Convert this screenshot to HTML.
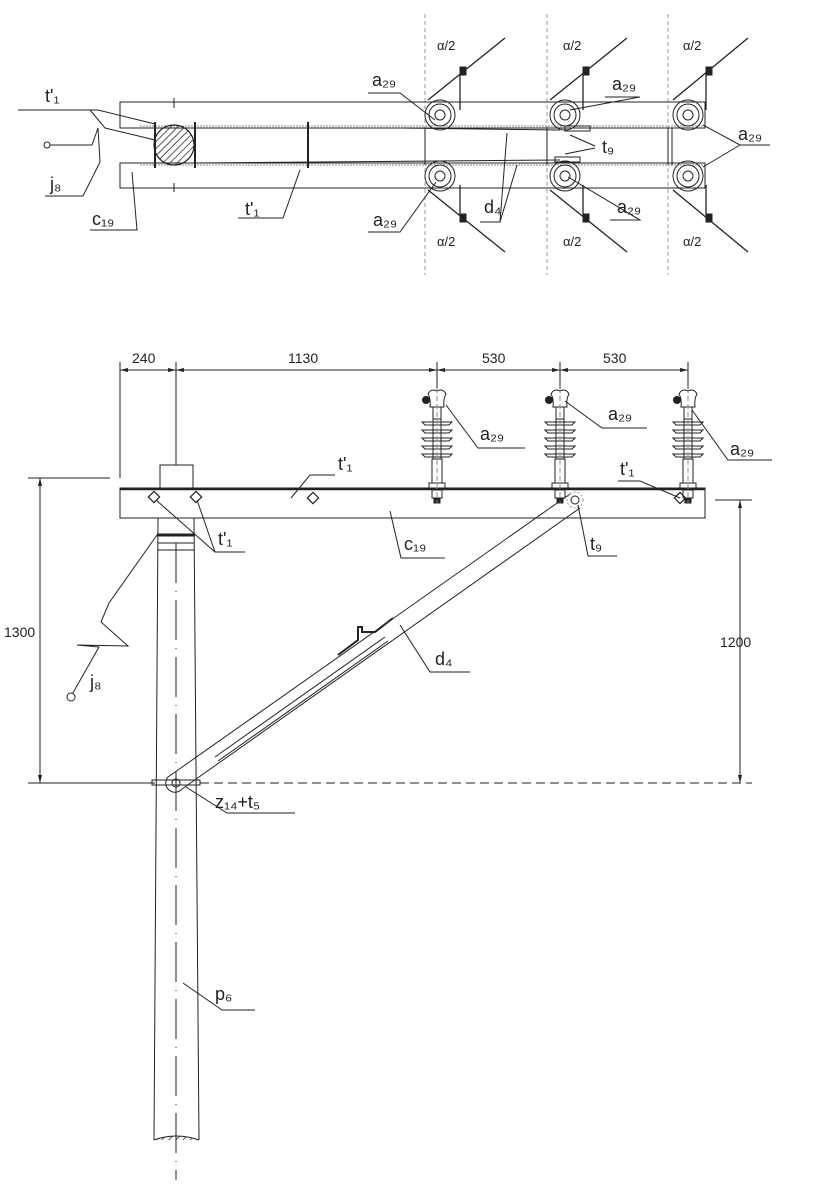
<!DOCTYPE html>
<html><head><meta charset="utf-8"><style>
html,body{margin:0;padding:0;background:#fff}
svg{display:block}
text{font-family:"Liberation Sans",sans-serif;fill:#222}
</style></head><body>
<svg width="816" height="1200" viewBox="0 0 816 1200" xmlns="http://www.w3.org/2000/svg" stroke="#222" fill="none" stroke-width="1">
<defs>
<pattern id="h" width="5" height="5" patternUnits="userSpaceOnUse" patternTransform="rotate(45)"><line x1="0" y1="0" x2="0" y2="5" stroke="#222" stroke-width="1.5"/></pattern>
</defs>
<!-- TOP VIEW -->
<g stroke="#999" stroke-dasharray="4,3">
<line x1="425" y1="14" x2="425" y2="275"/><line x1="547" y1="14" x2="547" y2="275"/><line x1="668" y1="14" x2="668" y2="275"/>
</g>
<rect x="120" y="102" width="585" height="26"/>
<rect x="120" y="163" width="585" height="25"/>
<line x1="140" y1="126" x2="705" y2="126" stroke="#888" stroke-dasharray="2,1"/>
<line x1="140" y1="165" x2="705" y2="165" stroke="#888" stroke-dasharray="2,1"/>
<circle cx="174" cy="145" r="20" fill="url(#h)" stroke-width="1.2"/>
<line x1="155" y1="122" x2="155" y2="168" stroke-width="2"/><line x1="195" y1="122" x2="195" y2="168" stroke-width="2"/>
<line x1="308" y1="122" x2="308" y2="168" stroke-width="2"/>
<line x1="174" y1="98" x2="174" y2="108"/><line x1="174" y1="183" x2="174" y2="192"/>
<line x1="195" y1="128" x2="400" y2="128"/><line x1="400" y1="128" x2="560" y2="130"/>
<line x1="195" y1="163" x2="560" y2="160"/>
<line x1="425" y1="128" x2="425" y2="165"/><line x1="547" y1="128" x2="547" y2="165"/>
<line x1="668" y1="128" x2="668" y2="165"/><line x1="672" y1="128" x2="672" y2="165"/>
<g>
<circle cx="440" cy="115" r="15"/><circle cx="440" cy="115" r="11"/><circle cx="440" cy="115" r="5"/>
<circle cx="440" cy="176" r="15"/><circle cx="440" cy="176" r="11"/><circle cx="440" cy="176" r="5"/>
<circle cx="565" cy="115" r="15"/><circle cx="565" cy="115" r="11"/><circle cx="565" cy="115" r="5"/>
<circle cx="565" cy="176" r="15"/><circle cx="565" cy="176" r="11"/><circle cx="565" cy="176" r="5"/>
<circle cx="688" cy="115" r="15"/><circle cx="688" cy="115" r="11"/><circle cx="688" cy="115" r="5"/>
<circle cx="688" cy="176" r="15"/><circle cx="688" cy="176" r="11"/><circle cx="688" cy="176" r="5"/>
</g>
<rect x="565" y="126" width="25" height="5"/><rect x="555" y="157" width="25" height="5"/>
<g stroke-width="1.3">
<line x1="428" y1="100" x2="505" y2="38"/><line x1="460" y1="75" x2="460" y2="110"/>
<line x1="428" y1="190" x2="505" y2="252"/><line x1="460" y1="215" x2="460" y2="185"/>
<line x1="550" y1="100" x2="627" y2="38"/><line x1="583" y1="75" x2="583" y2="110"/>
<line x1="550" y1="190" x2="627" y2="252"/><line x1="583" y1="215" x2="583" y2="185"/>
<line x1="673" y1="100" x2="748" y2="38"/><line x1="706" y1="75" x2="706" y2="110"/>
<line x1="673" y1="190" x2="748" y2="252"/><line x1="706" y1="215" x2="706" y2="185"/>
</g>
<g fill="#222"><rect x="460" y="67" width="6" height="8"/><rect x="583" y="67" width="6" height="8"/><rect x="706" y="67" width="6" height="8"/>
<rect x="460" y="214" width="6" height="8"/><rect x="583" y="214" width="6" height="8"/><rect x="706" y="214" width="6" height="8"/></g>
<g font-size="13" stroke="none"><text x="437" y="50">α/2</text><text x="563" y="50">α/2</text><text x="683" y="50">α/2</text>
<text x="437" y="246">α/2</text><text x="563" y="246">α/2</text><text x="683" y="246">α/2</text></g>
<g font-size="18" stroke="none">
<text x="45" y="102">t'₁</text><text x="50" y="190">j₈</text><text x="92" y="225">c₁₉</text>
<text x="245" y="215">t'₁</text><text x="372" y="86">a₂₉</text><text x="612" y="90">a₂₉</text>
<text x="617" y="213">a₂₉</text><text x="373" y="226">a₂₉</text><text x="484" y="213">d₄</text>
<text x="602" y="153">t₉</text><text x="738" y="140">a₂₉</text>
</g>
<polyline points="18,110 98,110 155,124"/><polyline points="90,110 105,128 155,140"/>
<polyline points="47,145 92,145 98,128 100,162 83,196 45,196"/>
<circle cx="47" cy="145" r="3" fill="#fff"/>
<polyline points="90,230 137,230 132,172"/>
<polyline points="238,218 283,218 300,170"/>
<polyline points="368,93 400,93 435,120"/>
<polyline points="605,97 640,97 570,110"/><polyline points="610,220 640,220 568,177"/>
<polyline points="368,232 400,232 436,182"/>
<polyline points="480,222 500,222 507,133"/><line x1="500" y1="222" x2="517" y2="165"/>
<polyline points="595,146 570,135"/><polyline points="595,148 565,154"/>
<polyline points="770,145 740,145 703,125"/><line x1="740" y1="145" x2="703" y2="167"/>
<!-- FRONT VIEW dims -->
<line x1="120" y1="370" x2="688" y2="370"/>
<g><line x1="120" y1="362" x2="120" y2="478"/><line x1="176" y1="362" x2="176" y2="465"/>
<line x1="437" y1="362" x2="437" y2="393"/><line x1="560" y1="362" x2="560" y2="393"/><line x1="688" y1="362" x2="688" y2="393"/></g>
<g font-size="14" stroke="none"><text x="132" y="363">240</text><text x="288" y="363">1130</text><text x="482" y="363">530</text><text x="603" y="363">530</text>
<text x="4" y="637">1300</text><text x="720" y="647">1200</text></g>
<line x1="40" y1="478" x2="40" y2="783"/>
<line x1="28" y1="478" x2="110" y2="478"/>
<line x1="28" y1="783" x2="155" y2="783"/>
<line x1="740" y1="500" x2="740" y2="783"/>
<line x1="715" y1="500" x2="752" y2="500"/>
<line x1="200" y1="783" x2="752" y2="783" stroke-dasharray="9,5"/>
<g fill="#222" stroke="none">
<path d="M40,478l-2,8h4z"/><path d="M40,783l-2,-8h4z"/><path d="M740,500l-2,8h4z"/><path d="M740,783l-2,-8h4z"/>
<path d="M120,370l8,-2v4z"/><path d="M176,370l-8,-2v4z"/><path d="M176,370l8,-2v4z"/><path d="M437,370l-8,-2v4z"/><path d="M437,370l8,-2v4z"/><path d="M560,370l-8,-2v4z"/><path d="M560,370l8,-2v4z"/><path d="M688,370l-8,-2v4z"/>
</g>
<!-- pole -->
<rect x="160" y="465" width="33" height="23"/>
<line x1="158" y1="518" x2="154" y2="1140"/><line x1="194" y1="518" x2="199" y2="1140"/>
<line x1="157" y1="535" x2="195" y2="535" stroke-width="3"/>
<line x1="158" y1="543" x2="194" y2="543"/><line x1="158" y1="550" x2="194" y2="550"/>
<line x1="176" y1="543" x2="176" y2="1180" stroke-dasharray="40,8,1,8"/>
<path d="M154,1140 q22,-8 45,0" fill="url(#h)"/>
<!-- beam -->
<rect x="120" y="488" width="585" height="30"/>
<line x1="120" y1="489" x2="705" y2="489" stroke-width="2.5"/>
<g stroke-width="1.2">
<rect x="150" y="493" width="8" height="8" transform="rotate(45 154 497)"/><rect x="192" y="493" width="8" height="8" transform="rotate(45 196 497)"/>
<rect x="309" y="494" width="8" height="8" transform="rotate(45 313 498)"/><rect x="676" y="494" width="8" height="8" transform="rotate(45 680 498)"/>
</g>
<!-- insulators -->
<g id="ins">
<path d="M428,394 q3,-6 9,-3 q6,-3 9,3 q-3,5 -2,13 h-14 q1,-8 -2,-13z" fill="#fff"/>
<circle cx="426" cy="400" r="3.5" fill="#222"/>
<rect x="433" y="407" width="8" height="12"/>
<g fill="#fff"><path d="M422,422 h30 l-3,3 h-24z"/><path d="M422,430 h30 l-3,3 h-24z"/><path d="M422,438 h30 l-3,3 h-24z"/><path d="M422,446 h30 l-3,3 h-24z"/><path d="M422,454 h30 l-3,3 h-24z"/></g>
<rect x="433" y="419" width="8" height="40"/>
<rect x="432" y="459" width="10" height="24"/>
<rect x="429" y="483" width="16" height="5"/>
<rect x="432" y="490" width="10" height="8"/>
<rect x="434" y="498" width="6" height="5" fill="#222"/>
<line x1="437" y1="388" x2="437" y2="503" stroke-dasharray="5,3" stroke="#888"/>
</g>
<use href="#ins" x="123"/><use href="#ins" x="251"/>
<!-- brace -->
<line x1="168" y1="777" x2="570" y2="494"/><line x1="182" y1="789" x2="580" y2="508"/>
<path d="M168,777 a9,9 0 0 0 14,12"/>
<line x1="215" y1="757" x2="385" y2="637"/><line x1="218" y1="761" x2="388" y2="641"/>
<circle cx="176" cy="783" r="4"/>
<circle cx="575" cy="500" r="8" stroke="#999" stroke-dasharray="2,2"/><circle cx="575" cy="500" r="4"/>
<rect x="152" y="780" width="48" height="5"/>
<polyline points="338,655 358,640 358,627 362,627 362,632 375,632 393,618" stroke-width="2"/>
<!-- front labels -->
<g font-size="18" stroke="none">
<text x="480" y="440">a₂₉</text><text x="608" y="420">a₂₉</text><text x="730" y="455">a₂₉</text>
<text x="338" y="470">t'₁</text><text x="620" y="475">t'₁</text><text x="218" y="545">t'₁</text>
<text x="404" y="550">c₁₉</text><text x="590" y="550">t₉</text><text x="435" y="665">d₄</text>
<text x="90" y="688">j₈</text><text x="215" y="808">z₁₄+t₅</text><text x="215" y="1000">p₆</text>
</g>
<polyline points="525,448 478,448 446,405"/><polyline points="647,428 602,428 565,401"/>
<polyline points="772,460 728,460 692,410"/>
<polyline points="335,475 310,475 291,498"/><polyline points="618,481 640,481 680,498"/>
<polyline points="245,552 215,552 156,500"/><line x1="215" y1="552" x2="197" y2="500"/>
<polyline points="445,558 401,558 390,511"/><polyline points="617,556 588,556 578,505"/>
<polyline points="470,672 430,672 400,625"/>
<polyline points="70,698 99,647 77,645 128,646 101,622 109,603 157,535"/>
<circle cx="71" cy="697" r="4" fill="#fff"/>
<polyline points="295,813 227,813 186,787"/>
<polyline points="255,1010 222,1010 183,983"/>
</svg>
</body></html>
